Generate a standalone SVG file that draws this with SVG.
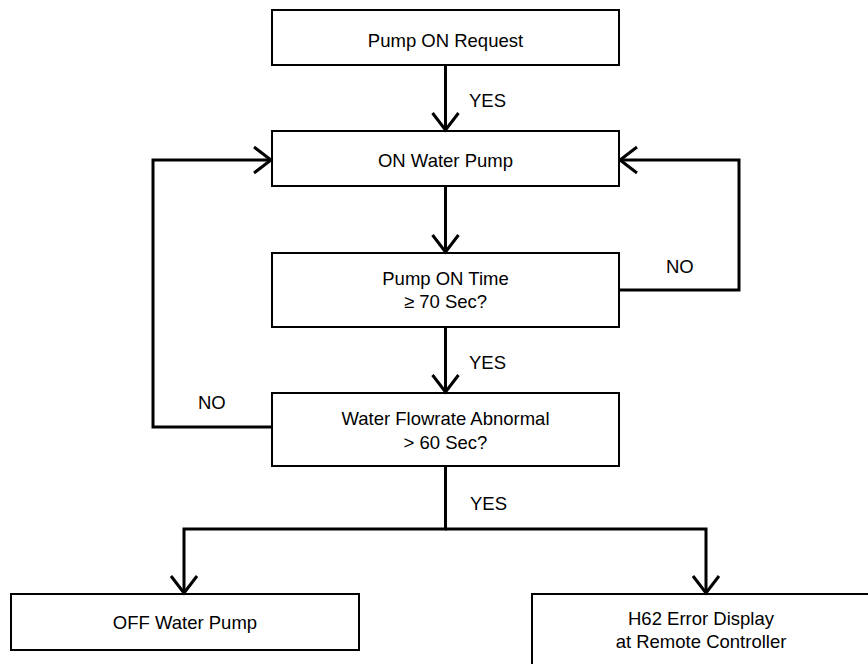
<svg xmlns="http://www.w3.org/2000/svg" width="868" height="664" viewBox="0 0 868 664">
<style>
.box{fill:#fff;stroke:#000;stroke-width:2}
.t{font-family:"Liberation Sans",Arial,sans-serif;font-size:18.5px;fill:#000;text-anchor:middle}
.l{font-family:"Liberation Sans",Arial,sans-serif;font-size:18.5px;fill:#000}
.c{fill:none;stroke:#000;stroke-width:3;stroke-linejoin:miter}
</style>
<defs>
<marker id="ah" markerUnits="userSpaceOnUse" markerWidth="40" markerHeight="40" viewBox="-20 -20 40 40" refX="0" refY="0" orient="auto" overflow="visible">
<path d="M-17,-13 L0,0 L-17,13" fill="none" stroke="#000" stroke-width="3"/>
</marker>
</defs>
<rect width="868" height="664" fill="#fff"/>
<g id="n1"><rect class="box" x="272" y="10" width="347" height="55"/><text class="t" x="445.5" y="47">Pump ON Request</text></g>
<g id="n2"><rect class="box" x="272" y="131" width="347" height="55"/><text class="t" x="445.5" y="167">ON Water Pump</text></g>
<g id="n3"><rect class="box" x="272" y="253" width="347" height="74"/><text class="t" x="445.5" y="285">Pump ON Time</text><text class="t" x="445.5" y="308">≥ 70 Sec?</text></g>
<g id="n4"><rect class="box" x="272" y="393" width="347" height="73"/><text class="t" x="445.5" y="425">Water Flowrate Abnormal</text><text class="t" x="445.5" y="449">&gt; 60 Sec?</text></g>
<g id="n5"><rect class="box" x="11" y="594" width="348" height="56"/><text class="t" x="185" y="629">OFF Water Pump</text></g>
<g id="n6"><rect class="box" x="532" y="594" width="350" height="80"/><text class="t" x="701" y="625">H62 Error Display</text><text class="t" x="701" y="648">at Remote Controller</text></g>
<g id="connectors">
<path class="c" d="M445.5,65 L445.5,130" marker-end="url(#ah)"/>
<path class="c" d="M445.5,186 L445.5,252" marker-end="url(#ah)"/>
<path class="c" d="M445.5,327 L445.5,392" marker-end="url(#ah)"/>
<path class="c" d="M619,290 L739,290 L739,160 L620,160" marker-end="url(#ah)"/>
<path class="c" d="M272,427 L153,427 L153,160 L271,160" marker-end="url(#ah)"/>
<path class="c" d="M445.5,466 L445.5,529 L184,529 L184,593" marker-end="url(#ah)"/>
<path class="c" d="M445.5,529 L706,529 L706,593" marker-end="url(#ah)"/>
<text class="l" x="469" y="107">YES</text>
<text class="l" x="469" y="369">YES</text>
<text class="l" x="470" y="510">YES</text>
<text class="l" x="666" y="273">NO</text>
<text class="l" x="198" y="409">NO</text>
</g>
</svg>
